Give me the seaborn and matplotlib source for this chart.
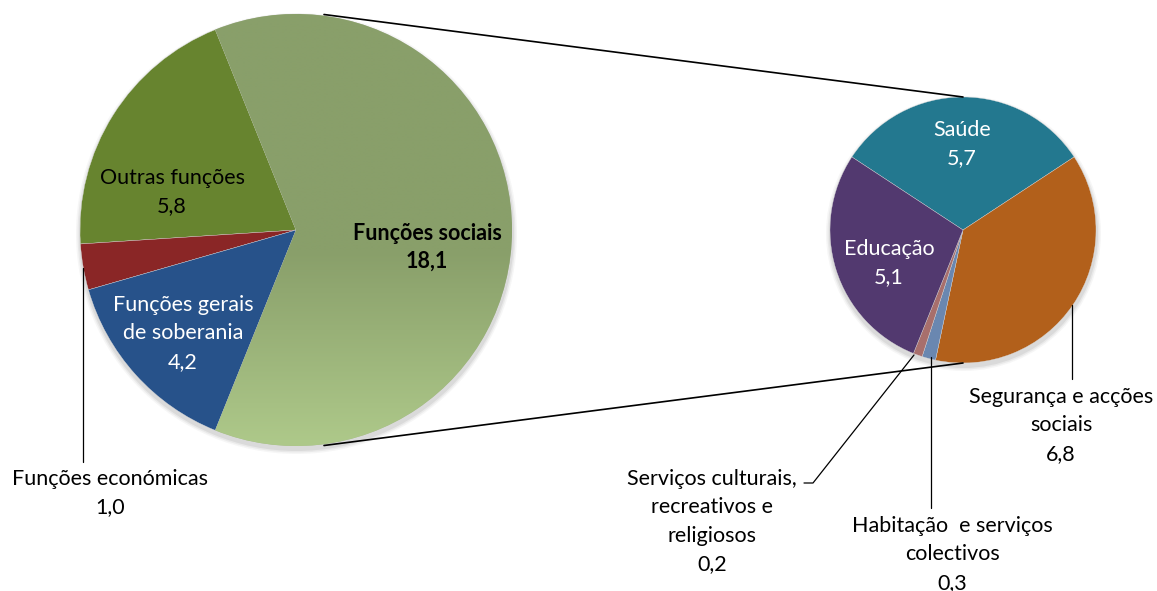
import numpy as np
import matplotlib
matplotlib.use("Agg")
import matplotlib.pyplot as plt
import seaborn as sns

# ---------------- data ----------------
main_labels = ["Funções sociais", "Outras funções", "Funções económicas", "Funções gerais\nde soberania"]
main_values = [18.1, 5.8, 1.0, 4.2]
main_colors = ["#8BA06C", "#67842F", "#8A2626", "#27528A"]

sub_labels = ["Saúde", "Segurança e acções\nsociais", "Habitação  e serviços\ncolectivos",
              "Serviços culturais,\nrecreativos e\nreligiosos", "Educação"]
sub_values = [5.7, 6.8, 0.3, 0.2, 5.1]
sub_colors = ["#23788F", "#B2601B", "#6A87B0", "#A86F6C", "#52396F"]

W, H = 1157, 591
sns.set_theme(style="white")
plt.rcParams["font.family"] = ["Lato", "DejaVu Sans"]

fig = plt.figure(figsize=(W / 100, H / 100), dpi=100)
ax = fig.add_axes([0, 0, 1, 1])


def fy(y):
    return H - y


def fmt(v):
    return f"{v:.1f}".replace(".", ",")


# pie geometry (pixels)
c1, r1 = (296, fy(230)), 216
c2, r2 = (963, fy(230)), 133

# soft shadows
for (c, r) in [(c1, r1), (c2, r2)]:
    for k, a in [(4.5, 0.06), (3.0, 0.09), (1.5, 0.12)]:
        ax.add_patch(plt.Circle((c[0] + 0.5, c[1] - 3.5), r + k, color="#707070", alpha=a, lw=0, zorder=0))

soc_angle = main_values[0] / sum(main_values) * 360
w1, _ = ax.pie(main_values, colors=main_colors, center=c1, radius=r1,
               startangle=-soc_angle / 2, counterclock=True,
               wedgeprops=dict(linewidth=0.25, edgecolor="#dddddd"))
saude_angle = sub_values[0] / sum(sub_values) * 360
w2, _ = ax.pie(sub_values, colors=sub_colors, center=c2, radius=r2,
               startangle=90 + saude_angle / 2, counterclock=False,
               wedgeprops=dict(linewidth=0.25, edgecolor="#dddddd"))
for w in list(w1) + list(w2):
    w.set_zorder(2)

# gradient on the social wedge
top = np.array(matplotlib.colors.to_rgb("#899F6A"))
bot = np.array(matplotlib.colors.to_rgb("#AEC98A"))
n = 200
t = np.linspace(0, 1, n)
t = np.clip((t - 0.55) / 0.45, 0, 1)
grad = (top[None, :] * (1 - t[:, None]) + bot[None, :] * t[:, None])[:, None, :]
im = ax.imshow(grad, extent=(c1[0] - r1, c1[0] + r1, c1[1] - r1, c1[1] + r1),
               origin="upper", aspect="auto", zorder=2.5, interpolation="bilinear")
im.set_clip_path(w1[0])

ax.set_xlim(0, W)
ax.set_ylim(0, H)
ax.set_aspect("auto")
ax.axis("off")

# connector lines
ax.plot([324, 963], [fy(14.5), fy(97)], color="black", lw=1.2, zorder=3)
ax.plot([324, 963], [fy(445.5), fy(363)], color="black", lw=1.2, zorder=3)

# leader lines
lk = dict(color="black", lw=0.9, zorder=3)
ax.plot([83, 83], [fy(268), fy(462)], **lk)
ax.plot([914, 813, 804], [fy(355), fy(483), fy(483)], **lk)
ax.plot([930.5, 930.5], [fy(357), fy(508)], **lk)
ax.plot([1072, 1072], [fy(305), fy(379)], **lk)

FS = 15.5


def label(x, y0, lines, color="black", bold=False, step=28.3):
    for i, s in enumerate(lines):
        ax.text(x, fy(y0 + i * step), s, ha="center", va="center", fontsize=FS,
                color=color, fontweight="bold" if bold else "normal", zorder=5)


label(427, 233, [main_labels[0], fmt(main_values[0])], bold=True)
label(172, 178, [main_labels[1], fmt(main_values[1])])
label(110, 479, [main_labels[2], fmt(main_values[2])])
label(183, 305, main_labels[3].split("\n") + [fmt(main_values[3])], color="white")

label(962, 130, [sub_labels[0], fmt(sub_values[0])], color="white")
label(1061, 397, sub_labels[1].split("\n") + [fmt(sub_values[1])])
label(952, 526, sub_labels[2].split("\n") + [fmt(sub_values[2])])
label(712, 479, sub_labels[3].split("\n") + [fmt(sub_values[3])])
label(889, 249, [sub_labels[4], fmt(sub_values[4])], color="white")

fig.savefig("out.png", dpi=100)
